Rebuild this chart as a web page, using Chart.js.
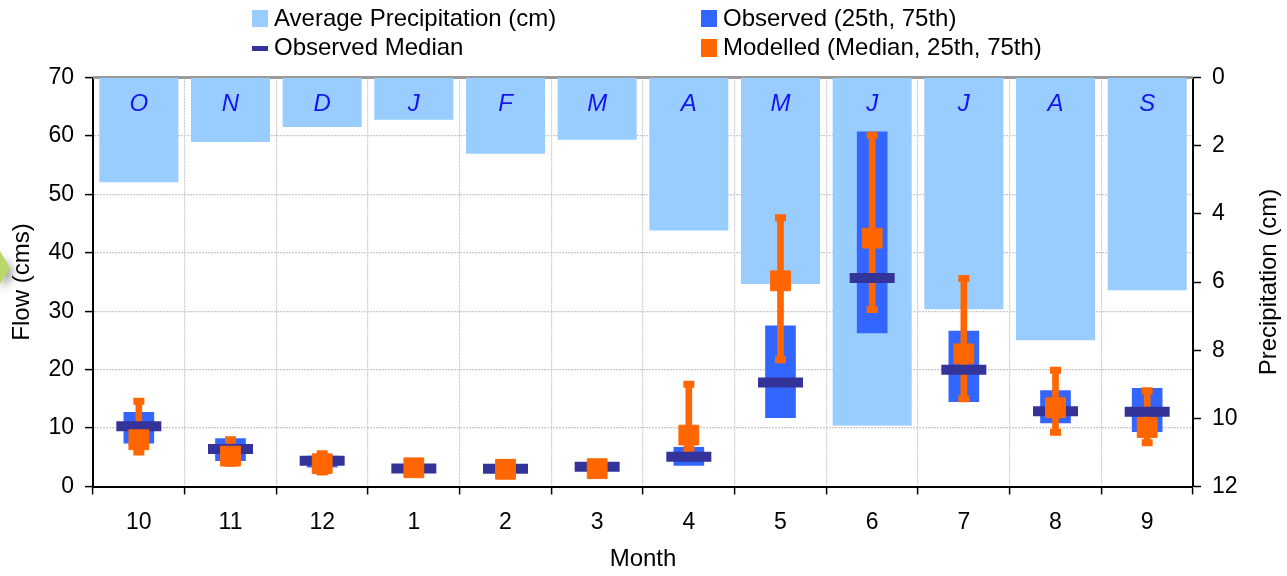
<!DOCTYPE html>
<html>
<head>
<meta charset="utf-8">
<script src="https://cdn.jsdelivr.net/npm/chart.js@4.4.1/dist/chart.umd.min.js"></script>
<style>
  html, body { margin: 0; padding: 0; background: #fff; }
  #wrap { position: relative; width: 1287px; height: 576px; }
</style>
</head>
<body>
<div id="wrap"><canvas id="c" width="1287" height="576"></canvas></div>
<script>
// ---- data ----
const months = ['10','11','12','1','2','3','4','5','6','7','8','9'];
const monthLetters = ['O','N','D','J','F','M','A','M','J','J','A','S'];
const precipCm = [3.07, 1.89, 1.45, 1.24, 2.24, 1.83, 4.49, 6.06, 10.21, 6.80, 7.71, 6.24];
const obs25 = [7.4, 4.4, 3.3, 2.7, 2.6, 3.0, 3.6, 11.8, 26.3, 14.5, 10.9, 9.4];
const obs75 = [12.7, 8.2, 5.2, 3.5, 3.5, 3.8, 6.7, 27.5, 60.7, 26.6, 16.4, 16.8];
const obsMedian = [10.3, 6.4, 4.4, 3.1, 3.05, 3.4, 5.1, 17.8, 35.7, 20.0, 12.9, 12.8];
const modMedian = [8.0, 5.2, 3.9, 3.2, 2.95, 3.05, 8.8, 35.2, 42.5, 22.7, 13.5, 10.1];
const mod25 = [5.9, 4.0, 2.5, 2.4, 2.2, 2.3, 6.4, 21.7, 30.3, 15.0, 9.3, 7.5];
const mod75 = [14.6, 8.0, 5.6, 4.0, 3.8, 3.9, 17.5, 46.0, 60.1, 35.6, 19.9, 16.4];
const flowTicks = { min: 0, max: 70, step: 10 };
const precipTicks = { min: 0, max: 12, step: 2 };

// ---- styles ----
const FONT = "'Liberation Sans', Arial, sans-serif";
const C_PRECIP = '#99CCFF', C_OBS = '#3366FF', C_MED = '#333399', C_MOD = '#FF6600';
const GRID = '#cacaca';

const obsRange = obs25.map((v, i) => [v, obs75[i]]);
const modRange = mod25.map((v, i) => [v, mod75[i]]);

const decorPlugin = {
  id: 'decor',
  beforeDraw(chart) {
    const ctx = chart.ctx;
    ctx.save();
    ctx.shadowColor = 'rgba(0,0,0,0.45)';
    ctx.shadowBlur = 8;
    ctx.shadowOffsetX = 3;
    ctx.shadowOffsetY = 5;
    ctx.fillStyle = '#B8D86B';
    ctx.beginPath();
    ctx.moveTo(0, 251);
    ctx.lineTo(10, 268);
    ctx.lineTo(0, 284);
    ctx.closePath();
    ctx.fill();
    ctx.restore();
  },
  beforeDatasetsDraw(chart) {
    const ctx = chart.ctx, ca = chart.chartArea;
    ctx.save();
    ctx.strokeStyle = '#9a9a9a';
    ctx.lineWidth = 3;
    ctx.beginPath();
    ctx.moveTo(ca.left, ca.top);
    ctx.lineTo(ca.right, ca.top);
    ctx.stroke();
    ctx.restore();
  },
  afterDatasetsDraw(chart) {
    const ctx = chart.ctx;
    const xs = chart.scales.x;
    const top = chart.chartArea.top;
    ctx.save();
    ctx.font = 'italic 24px ' + FONT;
    ctx.fillStyle = '#1414EE';
    ctx.textAlign = 'center';
    ctx.textBaseline = 'middle';
    monthLetters.forEach((t, i) => ctx.fillText(t, xs.getPixelForValue(i), top + 27));
    ctx.restore();
  },
  afterDraw(chart) {
    const ctx = chart.ctx;
    ctx.save();
    ctx.font = '24px ' + FONT;
    ctx.textBaseline = 'middle';
    ctx.textAlign = 'left';
    const ds = chart.data.datasets;
    ctx.fillStyle = C_PRECIP; ctx.fillRect(252, 10, 16, 17);
    ctx.fillStyle = C_MED; ctx.fillRect(252, 46, 16, 5);
    ctx.fillStyle = C_OBS; ctx.fillRect(701, 10, 16, 17);
    ctx.fillStyle = C_MOD; ctx.fillRect(701, 39, 16, 18);
    ctx.fillStyle = '#000';
    ctx.fillText(ds[0].label, 274, 19);
    ctx.fillText(ds[2].label, 274, 48);
    ctx.fillText(ds[1].label, 723, 19);
    ctx.fillText(ds[5].label, 723, 48);
    const ca = chart.chartArea;
    ctx.translate(1269, (ca.top + ca.bottom) / 2);
    ctx.rotate(-Math.PI / 2);
    ctx.textAlign = 'center';
    ctx.fillText('Precipitation (cm)', 0, 0);
    ctx.restore();
  }
};

new Chart(document.getElementById('c'), {
  type: 'bar',
  data: {
    labels: months,
    datasets: [
      { label: 'Average Precipitation (cm)', type: 'bar', data: precipCm, yAxisID: 'y2',
        backgroundColor: C_PRECIP, borderWidth: 0, grouped: false,
        categoryPercentage: 1, barPercentage: 0.862, order: 5 },
      { label: 'Observed (25th, 75th)', type: 'bar', data: obsRange, yAxisID: 'y',
        backgroundColor: C_OBS, borderWidth: 0, grouped: false, barThickness: 30, order: 4 },
      { label: 'Observed Median', type: 'line', data: obsMedian, yAxisID: 'y', showLine: false,
        pointStyle: 'line', pointRadius: 22.5, pointBorderWidth: 10, pointBorderColor: C_MED,
        pointBackgroundColor: C_MED, order: 1 },
      { label: 'Modelled range', type: 'bar', data: modRange, yAxisID: 'y',
        backgroundColor: C_MOD, borderWidth: 0, grouped: false, barThickness: 6, order: 3 },
      { label: 'Modelled caps', type: 'line', data: mod25, yAxisID: 'y', showLine: false,
        pointStyle: 'line', pointRadius: 5.5, pointBorderWidth: 7, pointBorderColor: C_MOD, order: 2 },
      { label: 'Modelled (Median, 25th, 75th)', type: 'line', data: modMedian, yAxisID: 'y', showLine: false,
        pointStyle: 'rect', pointRadius: 14, pointBorderWidth: 1, pointBorderColor: C_MOD,
        pointBackgroundColor: C_MOD, order: 0 },
      { label: 'Modelled caps 75', type: 'line', data: mod75, yAxisID: 'y', showLine: false,
        pointStyle: 'line', pointRadius: 5.5, pointBorderWidth: 7, pointBorderColor: C_MOD, order: 2 }
    ]
  },
  options: {
    responsive: false,
    devicePixelRatio: 1,
    animation: false,
    events: [],
    layout: { padding: { top: 77.5, left: 0, right: 0, bottom: 0 } },
    plugins: { legend: { display: false }, tooltip: { enabled: false } },
    scales: {
      x: {
        type: 'category',
        offset: true,
        grid: { offset: true, color: GRID, lineWidth: 1.2, tickColor: '#000', tickLength: 8, tickWidth: 1.5 },
        border: { color: '#000', width: 2, dash: [2, 1] },
        ticks: { color: '#000', font: { family: FONT, size: 23 }, padding: 14 },
        title: { display: true, text: 'Month', color: '#000', font: { family: FONT, size: 24 }, padding: { top: 0, bottom: 2 } },
        afterFit(s) { s.height = 576 - 486.5; }
      },
      y: {
        position: 'left',
        min: flowTicks.min, max: flowTicks.max,
        ticks: { stepSize: flowTicks.step, color: '#000', font: { family: FONT, size: 23 }, padding: 11 },
        grid: { color: GRID, lineWidth: 1.2, tickColor: '#000', tickLength: 8, tickWidth: 1.5 },
        border: { color: '#000', width: 2, dash: [2, 1] },
        title: { display: true, text: 'Flow (cms)', color: '#000', font: { family: FONT, size: 24 }, padding: { top: 8, bottom: 0 } },
        afterFit(s) { s.width = 93; }
      },
      y2: {
        position: 'right',
        reverse: true,
        min: precipTicks.min, max: precipTicks.max,
        ticks: { stepSize: precipTicks.step, color: '#000', font: { family: FONT, size: 23 }, padding: 11 },
        grid: { drawOnChartArea: false, tickColor: '#000', tickLength: 8, tickWidth: 1.5 },
        border: { color: '#000', width: 2 },
        afterFit(s) { s.width = 1287 - 1193; }
      }
    }
  },
  plugins: [decorPlugin]
});
</script>
</body>
</html>
